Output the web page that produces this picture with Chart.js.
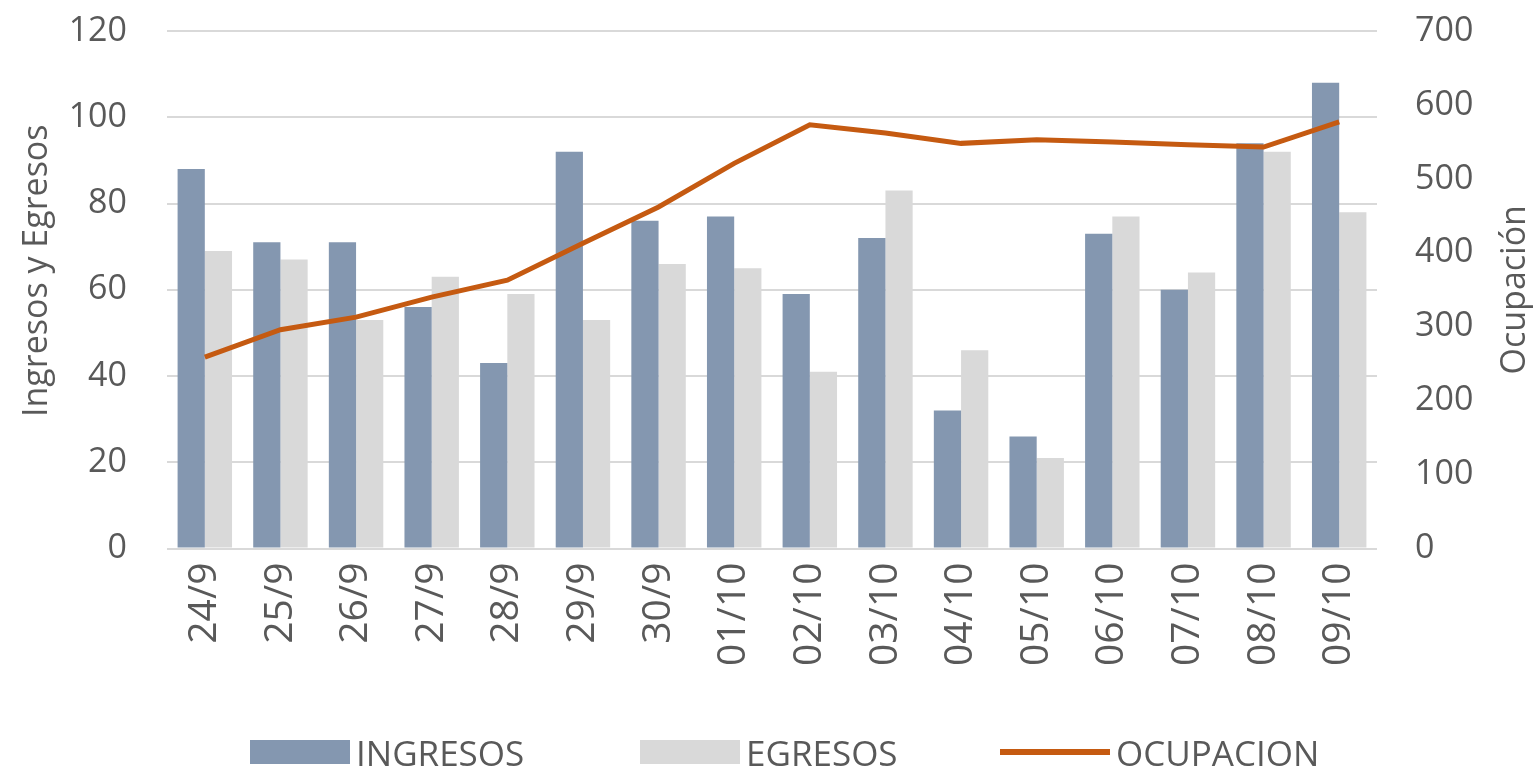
<!DOCTYPE html>
<html>
<head>
<meta charset="utf-8">
<script src="https://cdn.jsdelivr.net/npm/chart.js@4"></script>
<style>
  html,body{margin:0;padding:0;background:#fff;}
  #wrap{position:relative;width:1534px;height:768px;}
  canvas{position:absolute;left:0;top:0;}
  .leg{position:absolute;top:734px;height:36px;display:flex;align-items:center;font-family:"Open Sans",sans-serif;font-size:35px;color:#595959;white-space:nowrap;}
  .sw{display:inline-block;margin-right:6px;}
</style>
</head>
<body>
<div id="wrap">
  <canvas id="c" width="1534" height="768"></canvas>
  <div id="legend"></div>
</div>
<script>
const categories = ["24/9","25/9","26/9","27/9","28/9","29/9","30/9","01/10","02/10","03/10","04/10","05/10","06/10","07/10","08/10","09/10"];
const ingresos = [88,71,71,56,43,92,76,77,59,72,32,26,73,60,94,108];
const egresos  = [69,67,53,63,59,53,66,65,41,83,46,21,77,64,92,78];
const ocupacion = [259,296,313,340,363,413,462,521,573,562,548,553,550,546,543,577];
const leftTicks = [0,20,40,60,80,100,120];
const rightTicks = [0,100,200,300,400,500,600,700];
const seriesNames = ["INGRESOS","EGRESOS","OCUPACION"];
const leftTitle = "Ingresos y Egresos";
const rightTitle = "Ocupación";

const TXT = "#595959";
const FONT = "'Open Sans', sans-serif";
const colors = ["#8497B0","#D9D9D9","#C55A11"];

function drawRotated(ctx, text, x, y) {
  ctx.save();
  ctx.translate(x, y);
  ctx.rotate(-Math.PI / 2);
  ctx.font = "34px " + FONT;
  ctx.fillStyle = TXT;
  ctx.textAlign = "center";
  ctx.textBaseline = "middle";
  ctx.fillText(text, 0, 0);
  ctx.restore();
}

const axisTitlesPlugin = {
  id: "axisTitles",
  afterDraw(chart) {
    const a = chart.chartArea;
    const mid = (a.top + a.bottom) / 2;
    drawRotated(chart.ctx, leftTitle, 37, mid - 19);
    drawRotated(chart.ctx, rightTitle, 1515, mid);
  }
};

const chart = new Chart(document.getElementById("c"), {
  type: "bar",
  data: {
    labels: categories,
    datasets: [
      {label: seriesNames[0], data: ingresos, backgroundColor: colors[0], yAxisID: "y", order: 2,
       categoryPercentage: 0.72, barPercentage: 1.0},
      {label: seriesNames[1], data: egresos, backgroundColor: colors[1], yAxisID: "y", order: 2,
       categoryPercentage: 0.72, barPercentage: 1.0},
      {label: seriesNames[2], data: ocupacion, type: "line", borderColor: colors[2], backgroundColor: colors[2],
       borderWidth: 5, pointRadius: 0, tension: 0, yAxisID: "y1", order: 1}
    ]
  },
  options: {
    responsive: false,
    animation: false,
    layout: {padding: {top: 31, left: 0, right: 0, bottom: 0}},
    plugins: {legend: {display: false}, tooltip: {enabled: false}},
    scales: {
      x: {
        grid: {display: false, drawTicks: false},
        border: {display: false},
        ticks: {color: TXT, font: {family: FONT, size: 39}, minRotation: 90, maxRotation: 90, padding: 14, autoSkip: false},
        afterFit(s) { s.height = 219.5; }
      },
      y: {
        position: "left",
        min: 0, max: 120,
        afterBuildTicks(s) { s.ticks = leftTicks.map(v => ({value: v})); },
        grid: {color: "#D9D9D9", lineWidth: 2, drawTicks: false},
        border: {display: false},
        ticks: {color: TXT, font: {family: FONT, size: 34}, padding: 40},
        afterFit(s) { s.width = 167; s.paddingTop = 0; s.paddingBottom = 0; }
      },
      y1: {
        position: "right",
        min: 0, max: 700,
        afterBuildTicks(s) { s.ticks = rightTicks.map(v => ({value: v})); },
        grid: {display: false, drawTicks: false},
        border: {display: false},
        ticks: {color: TXT, font: {family: FONT, size: 34}, padding: 38},
        afterFit(s) { s.width = 157; s.paddingTop = 0; s.paddingBottom = 0; }
      }
    }
  },
  plugins: [axisTitlesPlugin]
});

// HTML legend built from the chart's datasets
const legendPos = [250, 640, 1000];
const legendEl = document.getElementById("legend");
chart.data.datasets.forEach((ds, i) => {
  const item = document.createElement("div");
  item.className = "leg";
  item.style.left = legendPos[i] + "px";
  const sw = document.createElement("span");
  sw.className = "sw";
  if (ds.type === "line") {
    sw.style.width = "110px"; sw.style.height = "6px"; sw.style.background = ds.borderColor;
  } else {
    sw.style.width = "100px"; sw.style.height = "24px"; sw.style.background = ds.backgroundColor;
  }
  item.appendChild(sw);
  item.appendChild(document.createTextNode(ds.label));
  legendEl.appendChild(item);
});
</script>
</body>
</html>
